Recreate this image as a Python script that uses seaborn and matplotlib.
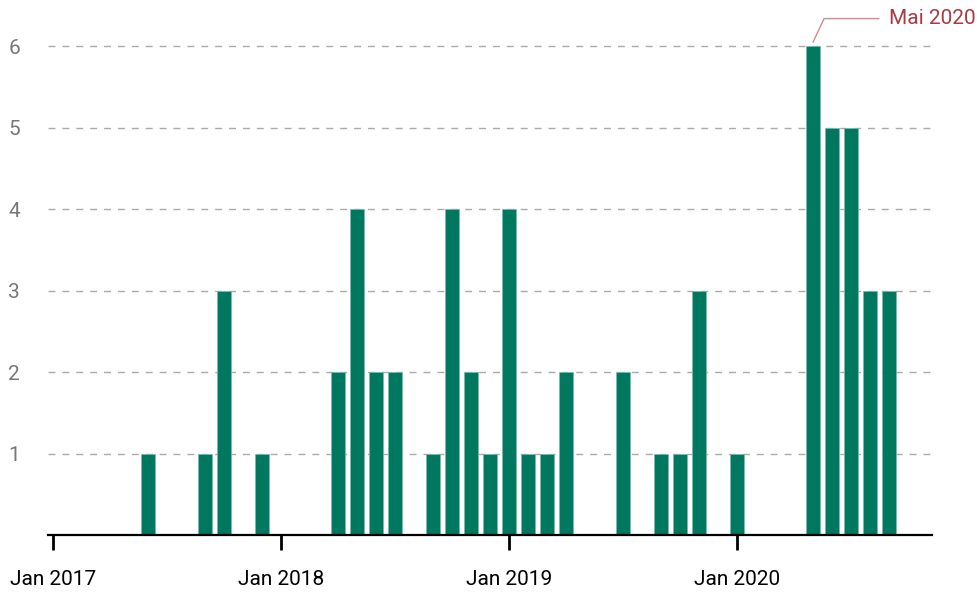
import pandas as pd
import matplotlib.pyplot as plt
import seaborn as sns

# months with reports (counted from Jan 2017 = 0)
months = ["2017-06", "2017-09", "2017-10", "2017-12",
          "2018-04", "2018-05", "2018-06", "2018-07", "2018-09", "2018-10", "2018-11", "2018-12",
          "2019-01", "2019-02", "2019-03", "2019-04", "2019-07", "2019-09", "2019-10", "2019-11",
          "2020-01", "2020-05", "2020-06", "2020-07", "2020-08", "2020-09"]
counts = [1, 1, 3, 1,
          2, 4, 2, 2, 1, 4, 2, 1,
          4, 1, 1, 2, 2, 1, 1, 3,
          1, 6, 5, 5, 3, 3]
tick_labels = ["Jan 2017", "Jan 2018", "Jan 2019", "Jan 2020"]

dates = pd.to_datetime(months)
df = pd.DataFrame({
    "idx": (dates.year - 2017) * 12 + (dates.month - 1),
    "count": counts,
})

sns.set_style("white")
plt.rcParams["font.family"] = ["Liberation Sans Narrow", "Roboto", "DejaVu Sans"]

fig = plt.figure(figsize=(9.77, 5.93), dpi=100)
ax = fig.add_axes([48 / 977, 58 / 593, (932 - 48) / 977, (535 - 30) / 593])

sns.barplot(data=df, x="idx", y="count", native_scale=True, color="#00775f",
            saturation=1, width=0.75, ax=ax, edgecolor="#7fb8ac", linewidth=0.6)

ax.set_xlim(-0.26, 46.26)
ax.set_ylim(0, 6.2)
ax.set_xticks([0, 12, 24, 36])
ax.set_xticklabels(tick_labels)
ax.set_yticks([1, 2, 3, 4, 5, 6])
ax.set_xlabel("")
ax.set_ylabel("")

ax.yaxis.grid(True, linestyle=(0, (5, 5)), color="#aaaaaa", linewidth=1)
ax.set_axisbelow(True)
for s in ["top", "right", "left"]:
    ax.spines[s].set_visible(False)
ax.spines["bottom"].set_color("black")
ax.spines["bottom"].set_linewidth(1.6)

ax.tick_params(axis="x", bottom=True, direction="out", length=11, width=2, color="black",
               labelsize=15, labelcolor="black", pad=14)
ax.tick_params(axis="y", left=False, length=0, labelsize=15, labelcolor="#777777", pad=20)

ax.annotate("Mai 2020", xy=(40, 6.05), xytext=(44.0, 6.34),
            color="#a83a44", fontsize=15, ha="left", va="center",
            annotation_clip=False,
            arrowprops=dict(arrowstyle="-", color="#d08a90", lw=1,
                            connectionstyle="angle,angleA=0,angleB=65,rad=0",
                            shrinkA=5, shrinkB=0))

fig.savefig("out.png", dpi=100)
